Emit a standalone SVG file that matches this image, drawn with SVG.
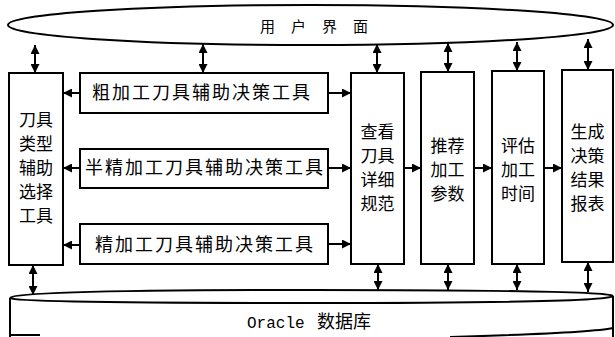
<svg xmlns="http://www.w3.org/2000/svg" width="615" height="337" viewBox="0 0 615 337">
<style>
.box{fill:#fff;stroke:#000;stroke-width:2}
.ln{fill:none;stroke:#000;stroke-width:2}
.t{font-family:"Noto Sans CJK SC",sans-serif;font-size:17px;fill:#000}
.h{font-size:18px;letter-spacing:2px}
.c{text-anchor:middle}
.arr{stroke:#000;stroke-width:2;fill:none;marker-end:url(#ah)}
.dbl{stroke:#000;stroke-width:2;fill:none;marker-start:url(#ah);marker-end:url(#ah)}
</style>
<defs>
<marker id="ah" viewBox="0 0 10 10" refX="10" refY="5" markerWidth="9" markerHeight="9" markerUnits="userSpaceOnUse" orient="auto-start-reverse">
<path d="M0,0 L10,5 L0,10 z" fill="#000"/>
</marker>
</defs>
<rect width="615" height="337" fill="#fff"/>

<g id="ui">
<ellipse cx="310.5" cy="25" rx="302.5" ry="20" class="ln"/>
<text x="260" y="32" class="t" style="font-size:15px;letter-spacing:16px">用户界面</text>
</g>

<g id="db">
<path class="ln" d="M10,337 L10,298 M613,296 L613,337"/>
<path class="ln" d="M10,298 Q15,290 311,290 Q607,290 613,296"/>
<path class="ln" d="M10,298 Q15,303 311,303 Q607,303 613,296"/>
<path class="ln" d="M10,335 L40,335 M450,337 Q590,333 613,328"/>
<text y="328" class="t"><tspan x="247" style="font-family:'Liberation Mono',monospace;font-size:16px">Oracle</tspan><tspan x="317" style="font-size:18px">数据库</tspan></text>
</g>

<g id="tooltype">
<rect x="9" y="73" width="54" height="192" class="box"/>
<text class="t c"><tspan x="36" y="126">刀具</tspan><tspan x="36" y="150">类型</tspan><tspan x="36" y="174">辅助</tspan><tspan x="36" y="198">选择</tspan><tspan x="36" y="222">工具</tspan></text>
</g>

<g id="rough">
<rect x="80" y="73" width="248" height="40" class="box"/>
<text x="92" y="99" class="t h">粗加工刀具辅助决策工具</text>
</g>

<g id="semi">
<rect x="80" y="149" width="248" height="39" class="box"/>
<text x="85" y="174" class="t h">半精加工刀具辅助决策工具</text>
</g>

<g id="finish">
<rect x="80" y="224" width="248" height="40" class="box"/>
<text x="95" y="251" class="t h">精加工刀具辅助决策工具</text>
</g>

<g id="view">
<rect x="351" y="73" width="53" height="191" class="box"/>
<text class="t c"><tspan x="377.5" y="138">查看</tspan><tspan x="377.5" y="162">刀具</tspan><tspan x="377.5" y="186">详细</tspan><tspan x="377.5" y="210">规范</tspan></text>
</g>

<g id="param">
<rect x="421" y="72" width="53" height="192" class="box"/>
<text class="t c"><tspan x="447.5" y="152">推荐</tspan><tspan x="447.5" y="176">加工</tspan><tspan x="447.5" y="200">参数</tspan></text>
</g>

<g id="time">
<rect x="492" y="71" width="52" height="193" class="box"/>
<text class="t c"><tspan x="518" y="152">评估</tspan><tspan x="518" y="176">加工</tspan><tspan x="518" y="200">时间</tspan></text>
</g>

<g id="report">
<rect x="562" y="70" width="51" height="192" class="box"/>
<text class="t c"><tspan x="587.5" y="138">生成</tspan><tspan x="587.5" y="162">决策</tspan><tspan x="587.5" y="186">结果</tspan><tspan x="587.5" y="210">报表</tspan></text>
</g>

<g id="connectors">
<line x1="80" y1="93" x2="63" y2="93" class="arr"/>
<line x1="80" y1="168" x2="63" y2="168" class="arr"/>
<line x1="80" y1="245" x2="63" y2="245" class="arr"/>
<line x1="328" y1="93" x2="351" y2="93" class="arr"/>
<line x1="328" y1="168" x2="351" y2="168" class="arr"/>
<line x1="328" y1="244" x2="351" y2="244" class="arr"/>
<line x1="404" y1="168" x2="421" y2="168" class="arr"/>
<line x1="474" y1="168" x2="492" y2="168" class="arr"/>
<line x1="544" y1="168" x2="562" y2="168" class="arr"/>

<line x1="35" y1="45" x2="35" y2="73" class="dbl"/>
<line x1="203" y1="44" x2="203" y2="73" class="dbl"/>
<line x1="377" y1="44" x2="377" y2="73" class="dbl"/>
<line x1="448" y1="43" x2="448" y2="72" class="dbl"/>
<line x1="517" y1="42" x2="517" y2="71" class="dbl"/>
<line x1="588" y1="39" x2="588" y2="70" class="dbl"/>

<line x1="33" y1="265" x2="33" y2="295" class="dbl"/>
<line x1="378" y1="264" x2="378" y2="290" class="dbl"/>
<line x1="448" y1="264" x2="448" y2="290" class="dbl"/>
<line x1="517" y1="264" x2="517" y2="290" class="dbl"/>
<line x1="588" y1="262" x2="588" y2="292" class="dbl"/>
</g>
</svg>
